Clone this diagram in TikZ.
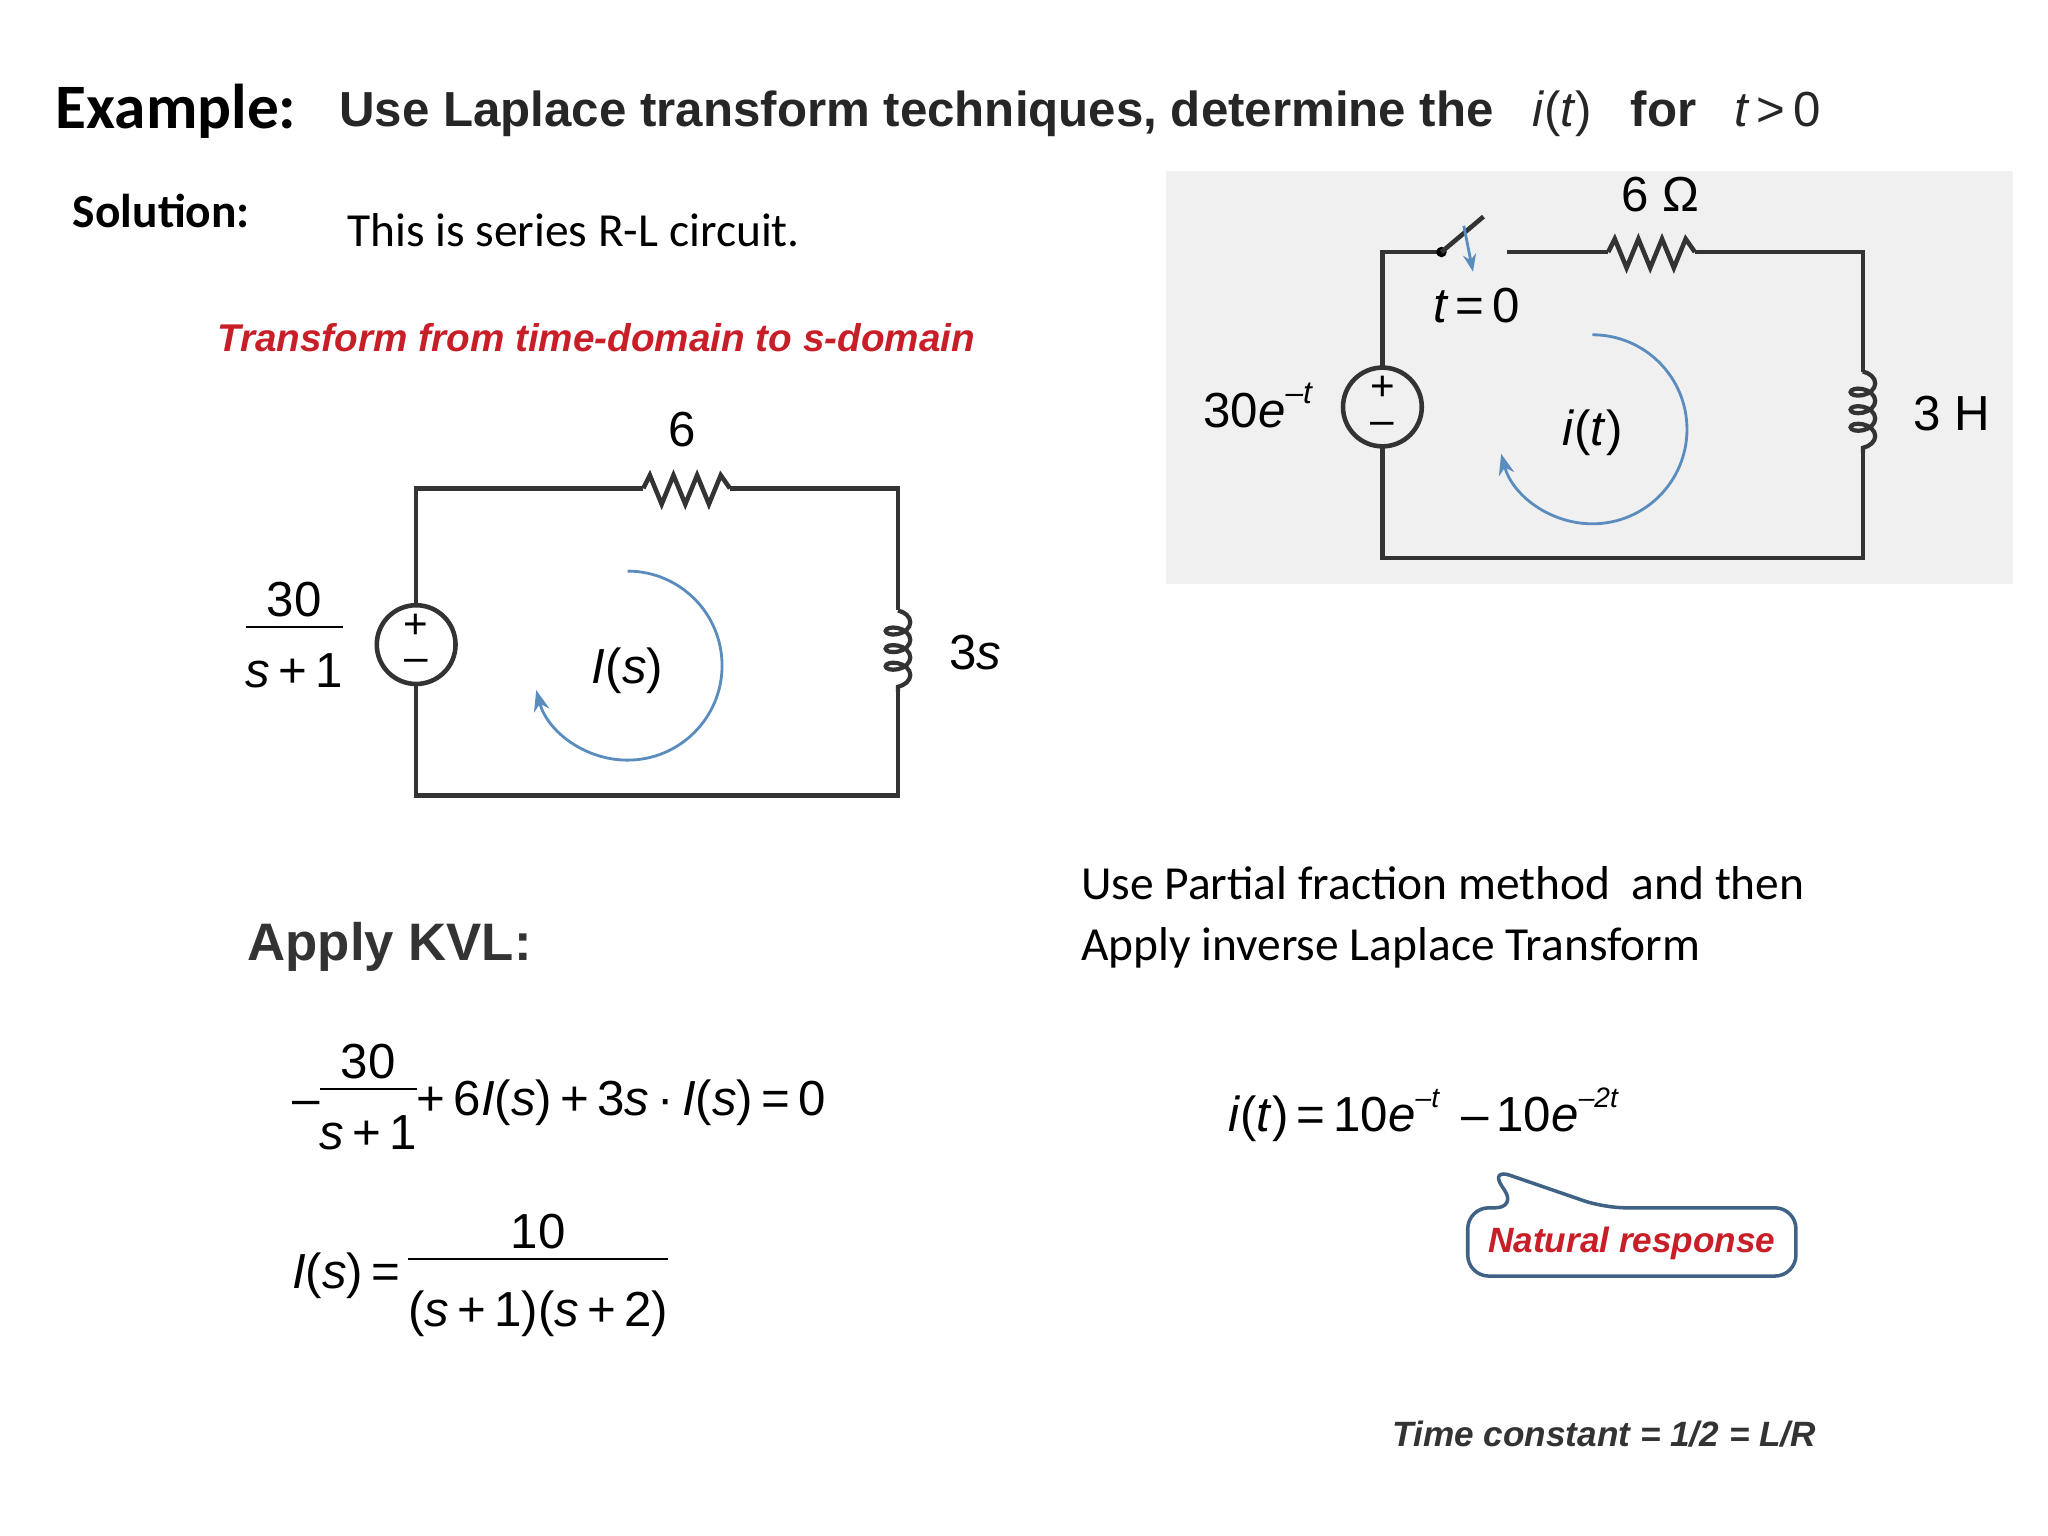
\documentclass[tikz,border=0pt]{standalone}
\usepackage{fontspec}
\setmainfont{Liberation Sans}
\newfontfamily\calfont{Carlito}
\usetikzlibrary{decorations.pathmorphing,arrows.meta}
\definecolor{loopc}{RGB}{90,140,190}
\definecolor{redt}{RGB}{200,30,40}
\tikzset{wire/.style={line width=1.3pt,black!80},
 res/.style={line width=1.3pt,black!80},
 coilst/.style={line width=1.2pt,black!80,decorate,decoration={coil,aspect=0.6,segment length=5pt,amplitude=3.5pt}},
 loopst/.style={loopc,line width=0.8pt,-{Stealth[length=6pt]}},
 lab/.style={font=\fontsize{14}{16}\selectfont,inner sep=0pt}}
\begin{document}
\begin{tikzpicture}[x=0.013128cm,y=-0.013128cm]
\useasboundingbox[fill=white] (0,0) rectangle (1560,1170);
% title
\node[anchor=base west,inner sep=0] (ex) at (42,98) {\calfont\fontsize{18}{20}\selectfont\bfseries Example:};
\node[anchor=base west,inner sep=0] (title) at (258,96) {\fontsize{14}{16}\selectfont\bfseries\color{black!85}Use Laplace transform techniques, determine the \enspace\mdseries\itshape i\/\upshape(\itshape t\/\upshape) \enspace\bfseries for \enspace\mdseries\itshape t\upshape\,>\,0};
\node[anchor=base west,inner sep=0] (sol) at (55,173) {\calfont\fontsize{13.5}{16}\selectfont\bfseries Solution:};
\node[anchor=base west,inner sep=0] (ser) at (264,188) {\calfont\fontsize{13.5}{16}\selectfont This is series R-L circuit.};
\node[anchor=base west,inner sep=0,redt] (tr) at (165,268) {\fontsize{11}{13}\selectfont\bfseries\itshape Transform from time-domain to s-domain};
% left circuit
\draw[wire] (317,460)--(317,372)--(490,372);
\draw[res] (490,372)--(495,362)--(504,384)--(513,362)--(522,384)--(531,362)--(540,384)--(549,362)--(556,372);
\draw[wire] (556,372)--(684,372)--(684,465);
\draw[coilst] (684,465)--(684,527);
\draw[wire] (684,527)--(684,606)--(317,606)--(317,521);
\draw[wire,fill=white] (317,491) circle (30);
\node[lab,font=\fontsize{12}{14}\selectfont] (lp) at (317,477) {+};
\node[lab,font=\fontsize{12}{14}\selectfont] (lm) at (317,507) {–};
\node[lab] (l6) at (520,327) {6};
\node[lab] (l3s) at (743,497) {3\itshape s};
\node[lab] (lsrc) at (224,488) {\begin{tabular}{@{}c@{}}30\\[-2pt]\hline\rule{0pt}{17pt}\itshape s\upshape\,+\,1\end{tabular}};
\node[lab] (lis) at (478,511) {\itshape I\/\upshape(\itshape s\/\upshape)};
\draw[loopst] (478,435) arc[start angle=-90,end angle=165,radius=72];
% right circuit
\fill[black!6] (888,130) rectangle (1533,445);
\draw[wire] (1053,280)--(1053,192)--(1098,192);
\fill (1098,192) circle (4);
\draw[wire] (1098,192)--(1130,165);
\draw[loopc,line width=0.8pt,-{Stealth[length=5pt]}] (1115,172)--(1122,207);
\draw[wire] (1148,192)--(1225,192);
\draw[res] (1225,192)--(1230,182)--(1239,204)--(1248,182)--(1257,204)--(1266,182)--(1275,204)--(1284,182)--(1291,192);
\draw[wire] (1291,192)--(1419,192)--(1419,283);
\draw[coilst] (1419,283)--(1419,345);
\draw[wire] (1419,345)--(1419,425)--(1053,425)--(1053,340);
\draw[wire,fill=black!6] (1053,310) circle (30);
\node[lab,font=\fontsize{12}{14}\selectfont] (rp) at (1053,296) {+};
\node[lab,font=\fontsize{12}{14}\selectfont] (rm) at (1053,326) {–};
\node[lab] (r6) at (1265,148) {6 Ω};
\node[lab] (rt0) at (1125,233) {\itshape t\upshape\,=\,0};
\node[lab] (r3h) at (1487,315) {3 H};
\node[lab] (rsrc) at (958,309) {30\itshape e\raisebox{7pt}{\fontsize{9}{10}\selectfont –t}};
\node[lab] (rit) at (1213,330) {\itshape i\/\upshape(\itshape t\/\upshape)};
\draw[loopst] (1213,255) arc[start angle=-90,end angle=165,radius=72];
% KVL
\node[anchor=base west,inner sep=0] (kvl) at (188,732) {\fontsize{15}{18}\selectfont\bfseries\color{black!80}Apply KVL:};
\node[lab,anchor=west] (eq1) at (222,840) {–\begin{tabular}{@{}c@{}}30\\[-2pt]\hline\rule{0pt}{17pt}\itshape s\upshape\,+\,1\end{tabular}+\,6\itshape I\/\upshape(\itshape s\/\upshape)\,+\,3\itshape s\upshape\,·\,\itshape I\/\upshape(\itshape s\/\upshape)\,=\,0};
\node[lab,anchor=west] (eq2) at (222,972) {\itshape I\/\upshape(\itshape s\/\upshape)\,=\,\begin{tabular}{@{}c@{}}10\\[-2pt]\hline\rule{0pt}{19pt}(\itshape s\upshape\,+\,1)(\itshape s\upshape\,+\,2)\end{tabular}};
\node[anchor=base west,inner sep=0] (pf1) at (823,685) {\calfont\fontsize{13.5}{18}\selectfont Use Partial fraction method \ and then};
\node[anchor=base west,inner sep=0] (pf2) at (823,732) {\calfont\fontsize{13.5}{18}\selectfont Apply inverse Laplace Transform};
\node[lab,anchor=west] (eq3) at (935,849) {\itshape i\/\upshape(\itshape t\/\upshape)\,=\,10\itshape e\raisebox{7pt}{\fontsize{8}{9}\selectfont –t}\upshape\, –\,10\itshape e\raisebox{7pt}{\fontsize{8}{9}\selectfont –2t}};
% callout
\draw[loopc!70!black,line width=1pt,fill=white,rounded corners=6pt] (1118,920) -- (1155,920) -- (1135,890) -- (1222,920) -- (1368,920) -- (1368,972) -- (1118,972) -- cycle;
\node[redt,font=\fontsize{10}{13}\selectfont\bfseries\itshape] (nat) at (1243,947) {Natural response};
\node[font=\fontsize{10}{12}\selectfont\bfseries\itshape,black!80] (tc) at (1222,1092) {Time constant = 1/2 = L/R};
\end{tikzpicture}
\end{document}
